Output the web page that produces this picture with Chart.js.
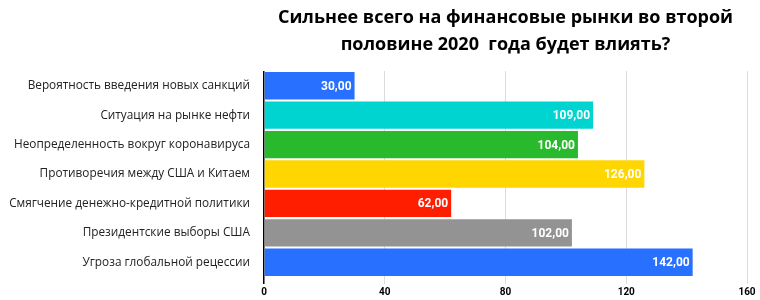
<!DOCTYPE html>
<html>
<head>
<meta charset="utf-8">
<script src="https://cdn.jsdelivr.net/npm/chart.js@4"></script>
<style>
  html, body { margin: 0; padding: 0; background: #fff; }
  #wrap { width: 760px; height: 300px; position: relative; }
</style>
</head>
<body>
<div id="wrap"><canvas id="chart"></canvas></div>
<script>
const titleLines = ['Сильнее всего на финансовые рынки во второй', 'половине 2020  года будет влиять?']
const categories = [
  'Вероятность введения новых санкций',
  'Ситуация на рынке нефти',
  'Неопределенность вокруг коронавируса',
  'Противоречия между США и Китаем',
  'Смягчение денежно-кредитной политики',
  'Президентские выборы США',
  'Угроза глобальной рецессии',
]
const votes = [30, 109, 104, 126, 62, 102, 142]
const barColors = ['#2870ff', '#00d4d0', '#29b92d', '#ffd600', '#ff1e00', '#939393', '#2870ff']
const xTicks = [0, 40, 80, 120, 160]

// title centered over the plot, not the whole canvas
const titlePlugin = {
  id: 'plotTitle',
  afterDraw(chart) {
    const { ctx, chartArea } = chart
    const cx = (chartArea.left + chartArea.right) / 2
    ctx.save()
    ctx.font = 'bold 18px "Open Sans"'
    ctx.fillStyle = '#000'
    ctx.textAlign = 'center'
    ctx.textBaseline = 'middle'
    titleLines.forEach((line, i) => ctx.fillText(line, cx, 18 + i * 27))
    ctx.restore()
  },
}

// white value labels at the end of each bar
const valuePlugin = {
  id: 'barValues',
  afterDatasetsDraw(chart) {
    const { ctx } = chart
    const meta = chart.getDatasetMeta(0)
    ctx.save()
    ctx.font = 'bold 12px Roboto'
    ctx.fillStyle = '#fff'
    ctx.textAlign = 'right'
    ctx.textBaseline = 'middle'
    meta.data.forEach((bar, i) => {
      const txt = votes[i].toFixed(2).replace('.', ',')
      ctx.fillText(txt, bar.x - 3, bar.y + 1)
    })
    ctx.restore()
  },
}

new Chart(document.getElementById('chart'), {
  type: 'bar',
  data: {
    labels: categories,
    datasets: [
      {
        data: votes,
        backgroundColor: barColors,
        barPercentage: 0.93,
        categoryPercentage: 1,
      },
    ],
  },
  options: {
    indexAxis: 'y',
    responsive: true,
    maintainAspectRatio: false,
    animation: false,
    layout: {
      padding: { top: 71, right: 13, bottom: 0, left: 0 },
    },
    scales: {
      x: {
        min: 0,
        max: 160,
        afterBuildTicks: (scale) => {
          scale.ticks = xTicks.map((v) => ({ value: v }))
        },
        border: { display: false },
        grid: {
          color: (c) => (c.tick && c.tick.value === 0 ? '#000' : '#dcdcdc'),
          lineWidth: (c) => (c.tick && c.tick.value === 0 ? 1.5 : 1),
          tickLength: 7,
        },
        ticks: {
          color: '#000',
          font: { family: 'Roboto', weight: 'bold', size: 10 },
          padding: 2,
          maxRotation: 0,
        },
      },
      y: {
        border: { display: false },
        grid: { display: false, tickLength: 0 },
        afterFit: (scale) => {
          scale.width = 264
        },
        ticks: {
          color: '#222',
          font: { family: '"Open Sans"', size: 11.8 },
          padding: 14,
        },
      },
    },
    plugins: {
      legend: { display: false },
      title: { display: false },
      tooltip: { enabled: false },
    },
  },
  plugins: [titlePlugin, valuePlugin],
})
</script>
</body>
</html>
